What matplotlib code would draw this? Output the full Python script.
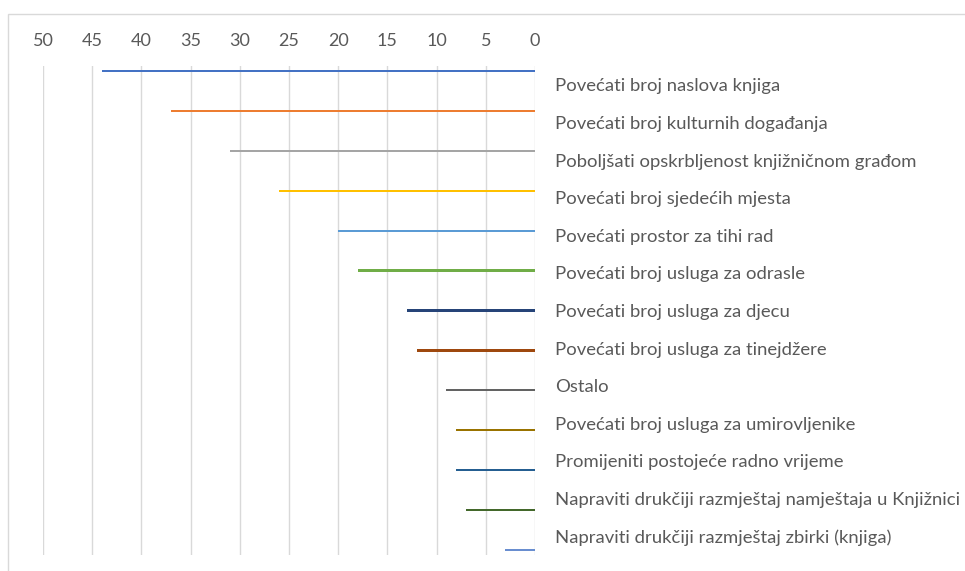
import numpy as np
import matplotlib
matplotlib.use('Agg')
import matplotlib.pyplot as plt
from matplotlib.patches import Rectangle

categories = [
    'Povećati broj naslova knjiga',
    'Povećati broj kulturnih događanja',
    'Poboljšati opskrbljenost knjižničnom građom',
    'Povećati broj sjedećih mjesta',
    'Povećati prostor za tihi rad',
    'Povećati broj usluga za odrasle',
    'Povećati broj usluga za djecu',
    'Povećati broj usluga za tinejdžere',
    'Ostalo',
    'Povećati broj usluga za umirovljenike',
    'Promijeniti postojeće radno vrijeme',
    'Napraviti drukčiji razmještaj namještaja u Knjižnici',
    'Napraviti drukčiji razmještaj zbirki (knjiga)',
]
values = [44, 37, 31, 26, 20, 18, 13, 12, 9, 8, 8, 7, 3]
colors = ['#4472C4', '#ED7D31', '#A5A5A5', '#FFC000', '#5B9BD5', '#70AD47',
          '#264478', '#9E480E', '#636363', '#997300', '#255E91', '#43682B', '#698ED0']
xticks = list(range(0, 55, 5))

text_color = '#595959'
plt.rcParams['font.family'] = ['Lato', 'DejaVu Sans']

fig = plt.figure(figsize=(9.65, 5.71), dpi=100)
ax = fig.add_axes([43 / 965, 1 - 555 / 571, (535 - 43) / 965, (555 - 66) / 571])

# each answer is its own series in an Excel clustered bar chart -> thin bars offset inside the band
n = len(categories)
bar_h = 0.06
idx = np.arange(n)
ypos = idx + (idx - (n - 1) / 2) * bar_h
for i in range(n):
    ax.barh(ypos[i], values[i], height=bar_h, color=colors[i], zorder=3)

ax.set_xlim(50, 0)
ax.set_ylim(n - 0.5, -0.5)
ax.set_xticks(xticks)
ax.xaxis.tick_top()
ax.tick_params(axis='x', length=0, pad=12, labelsize=13, colors=text_color)
ax.set_yticks(idx)
ax.set_yticklabels(categories)
ax.yaxis.tick_right()
ax.tick_params(axis='y', length=0, pad=14.5, labelsize=13.3, colors=text_color)
for lab in ax.get_yticklabels():
    lab.set_horizontalalignment('left')

ax.grid(axis='x', color='#D9D9D9', linewidth=1, zorder=0)
for s in ax.spines.values():
    s.set_visible(False)

# chart area border
fig.patches.append(Rectangle((8 / 965, -0.1), 2, 1 - 14 / 571 + 0.1, transform=fig.transFigure,
                             fill=False, edgecolor='#D9D9D9', linewidth=1))

fig.savefig('out.png', dpi=100)
